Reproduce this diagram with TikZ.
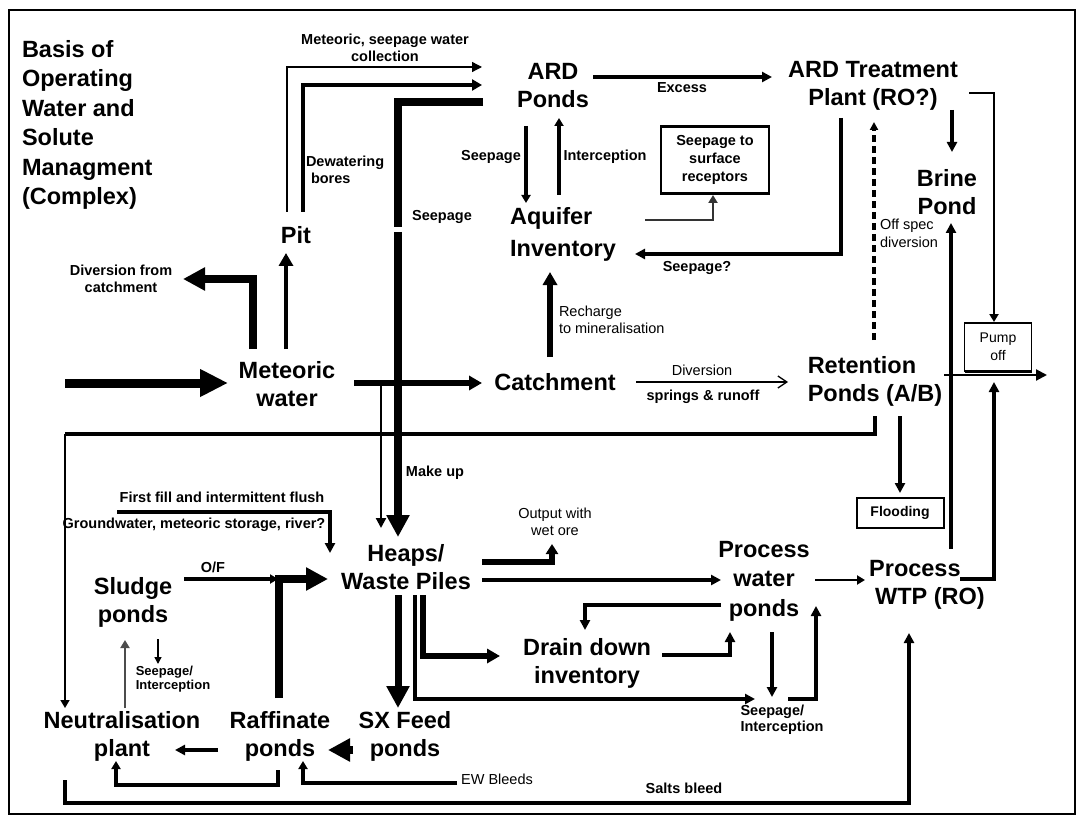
\documentclass[tikz,border=0pt]{standalone}
\usepackage{fontspec}
\setmainfont{Liberation Sans}
\usetikzlibrary{arrows.meta,calc}

\tikzset{
  every node/.style={inner sep=0pt, outer sep=0pt},
  stage/.style={font=\fontsize{23.5}{28}\selectfont\bfseries, align=center},
  tag/.style={font=\fontsize{14.5}{17.5}\selectfont\bfseries, align=center},
  note/.style={font=\fontsize{14.5}{17.5}\selectfont, align=center},
  framebox/.style={draw, line width=2pt, align=center},
  w1/.style={line width=1.3pt},
  w2/.style={line width=2.2pt},
  w3/.style={line width=3.3pt},
  w4/.style={line width=4.2pt},
  w5/.style={line width=5.5pt},
  w8/.style={line width=8pt},
  tipS/.style={-{Triangle[length=8pt,width=9pt]}},
  tipM/.style={-{Triangle[length=10pt,width=10pt]}},
  tipL/.style={-{Triangle[length=13pt,width=14pt]}},
  tipXL/.style={-{Triangle[length=22pt,width=22pt]}},
  tipOpen/.style={-{Straight Barb[length=9pt,width=12pt]}},
}

\begin{document}
\begin{tikzpicture}[x=1pt,y=-1pt]
\useasboundingbox (0,0) rectangle (1082,821);
\draw[line width=2pt] (9,10) rectangle (1075,814);

% heading
\node[anchor=north west, font=\fontsize{23.5}{29.5}\selectfont\bfseries, align=left]
  (title) at (22,40) {Basis of\\Operating\\Water and\\Solute\\Managment\\(Complex)};

% main inventories and plants
\node[stage] (met) at (287,384) {Meteoric\\water};
\node[stage] (pit) at (296,235) {Pit};
\node[stage] (ardp) at (553,86) {ARD\\Ponds};
\node[stage] (ardt) at (873,86) {ARD Treatment\\Plant (RO?)};
\node[stage, align=left, font=\fontsize{23.5}{32}\selectfont\bfseries] (aqu) at (563,234) {Aquifer\\Inventory};
\node[stage] (brine) at (947,192) {Brine\\Pond};
\node[stage] (catch) at (555,382) {Catchment};
\node[stage, align=left] (ret) at (875,381) {Retention\\Ponds (A/B)};
\node[stage] (heaps) at (406,567) {Heaps/\\Waste Piles};
\node[stage, font=\fontsize{23.5}{29.5}\selectfont\bfseries] (pwp) at (764,581) {Process\\water\\ponds};
\node[stage, align=left] (wtp) at (927,585) {Process\\\hspace*{6pt}WTP (RO)};
\node[stage] (ddi) at (587,663) {Drain down\\inventory};
\node[stage] (sludge) at (133,602) {Sludge\\ponds};
\node[stage] (neut) at (122,736) {Neutralisation\\plant};
\node[stage] (raff) at (280,736) {Raffinate\\ponds};
\node[stage] (sx) at (405,736) {SX Feed\\ponds};

% boxed receivers
\node[framebox, line width=2.4pt, minimum width=108pt, minimum height=67pt, tag,
  font=\fontsize{14.5}{18}\selectfont\bfseries] (recept) at (715,160) {Seepage to\\surface\\receptors};
\node[framebox, minimum width=87pt, minimum height=30pt, tag,
  font=\fontsize{14}{17}\selectfont\bfseries] (flood) at (900,513) {Flooding};
\node[framebox, line width=1.5pt, minimum width=67pt, minimum height=48pt, note,
  font=\fontsize{14}{18}\selectfont] (pump) at (998,347) {Pump\\off};
\draw[line width=3pt] (pump.south west) -- (pump.south east);

% flow labels
\node[tag] (collect) at (385,48) {Meteoric, seepage water\\collection};
\node[tag, align=left, anchor=west, font=\fontsize{14.5}{17}\selectfont\bfseries] (dewat) at (306,170) {Dewatering\\\hspace*{5pt}bores};
\node[tag] (divcatch) at (121,279) {Diversion from\\catchment};
\node[tag] (seepmain) at (442,217) {Seepage};
\node[tag] (excess) at (682,88) {Excess};
\node[tag] (seepdown) at (491,157) {Seepage};
\node[tag] (interc) at (605,157) {Interception};
\node[tag] (seepq) at (697,268) {Seepage?};
\node[note, align=left, anchor=west, font=\fontsize{14.5}{18}\selectfont] (offspec) at (880,233) {Off spec\\diversion};
\node[note, align=left, anchor=west, font=\fontsize{14.5}{17}\selectfont] (rech) at (559,320) {Recharge\\to mineralisation};
\node[note] (divlbl) at (702,370) {Diversion};
\node[tag] (springs) at (703,397) {springs \& runoff};
\node[tag] (makeup) at (435,473) {Make up};
\node[tag] (firstfill) at (222,497) {First fill and intermittent flush};
\node[tag] (gwater) at (194,525) {Groundwater, meteoric storage, river?};
\node[note, font=\fontsize{14.5}{17}\selectfont] (output) at (555,522) {Output with\\wet ore};
\node[tag] (of) at (213,567) {O/F};
\node[tag, align=left, font=\fontsize{13}{14}\selectfont\bfseries] (spi1) at (173,679) {Seepage/\\Interception};
\node[tag, align=left, font=\fontsize{14.5}{16}\selectfont\bfseries] (spi2) at (782,720) {Seepage/\\Interception};
\node[note] (ewb) at (497,779) {EW Bleeds};
\node[tag] (salts) at (684,788) {Salts bleed};

% free ends and bends
\coordinate (rain) at (65,383);
\coordinate (brkA) at (398,227);
\coordinate (brkB) at (398,232);
\coordinate (nbend) at (65,434);
\coordinate (ffstart) at (117,512);
\coordinate (outflow) at (1047,375);

% rainfall into the site
\draw[line width=9pt, -{Triangle[length=28pt,width=26pt]}] (rain) -- ($(met)+(-59,-1)$);
\draw[w8, tipXL] ($(met)+(-34,-35)$) |- ($(divcatch)+(62,0)$);
\draw[w4, tipL] ($(met)+(-1,-35)$) -- ($(pit)+(-10,18)$);
\draw[w5, tipL] ($(met)+(67,-1)$) -- ($(catch)+(-73,1)$);
\draw[w2, tipM] ($(met)+(94,-1)$) -- ($(heaps)+(-25,-39)$);

% pit to ARD ponds
\draw[w1, tipM] ($(pit)+(-9,-23)$) |- ($(ardp)+(-71,-19)$);
\draw[w4, {-Triangle[length=10pt,width=11pt]}] ($(pit)+(7,-23)$) |- ($(ardp)+(-71,-1)$);

% ARD ponds seepage / make up to the heaps
\draw[line width=7.5pt] ($(ardp)+(-70,16)$) -| (brkA);
\draw[line width=7.5pt, tipXL] (brkB) -- ($(heaps)+(-8,-30)$);

% ARD ponds, aquifer and treatment
\draw[w4, tipM] ($(ardp)+(40,-9)$) -- ($(ardt)+(-101,-9)$);
\draw[w3, tipS] ($(ardp)+(-27,40)$) -- ($(aqu)+(-37,-31)$);
\draw[w3, tipS] ($(aqu)+(-4,-39)$) -- ($(ardp)+(6,32)$);
\draw[w2, black!80, tipS] ($(aqu)+(82,-14)$) -| ($(recept)+(-2,35)$);
\draw[w3, tipM] ($(ardt)+(-32,32)$) |- ($(aqu)+(72,20)$);
\draw[w5, tipL] ($(catch)+(-5,-25)$) -- ($(aqu)+(-13,38)$);
\draw[w1, tipOpen] ($(catch)+(81,0)$) -- ($(ret)+(-87,1)$);

% treatment, brine and pump off
\draw[w3, dash pattern=on 7pt off 4pt, -{Triangle[length=8pt,width=8pt]}] ($(ret)+(-1,-41)$) -- ($(ardt)+(1,36)$);
\draw[w3, tipM] ($(ardt)+(79,24)$) -- ($(brine)+(5,-40)$);
\draw[line width=2.5pt, tipS] ($(ardt)+(96,7)$) -| ($(pump)+(-4,-25)$);
\draw[w3, tipM] ($(wtp)+(24,-36)$) -- ($(brine)+(4,31)$);
\draw[w3, tipM] ($(wtp)+(33,-6)$) -| ($(pump)+(-4,35)$);
\draw[w2, -{Triangle[length=11pt,width=11pt]}] ($(ret)+(69,-6)$) -- (outflow);
\draw[w3, tipM] ($(ret)+(25,35)$) -- ($(flood)+(0,-20)$);

% retention ponds to neutralisation
\draw[w3] ($(ret)+(0,35)$) |- (nbend);
\draw[line width=1.6pt, tipS] (nbend) -- ($(neut)+(-57,-28)$);

% first fill
\draw[w3, tipM] (ffstart) -| ($(heaps)+(-76,-14)$);

% sludge, raffinate and neutralisation circuit
\draw[w3, tipS] ($(sludge)+(51,-23)$) -- ($(heaps)+(-128,12)$);
\draw[w8, tipXL] ($(raff)+(-1,-38)$) |- ($(heaps)+(-78,12)$);
\draw[line width=1.5pt, -{Triangle[length=7pt,width=7pt]}] ($(sludge)+(25,37)$) -- ($(spi1)+(-15,-15)$);
\draw[w2, black!70, tipS] ($(neut)+(3,-28)$) -- ($(sludge)+(-8,38)$);
\draw[w3, tipM] ($(raff)+(-62,14)$) -- ($(neut)+(53,14)$);
\draw[w8, tipXL] ($(sx)+(-52,14)$) -- ($(raff)+(48,14)$);
\draw[w3, tipS] ($(raff)+(-2,34)$) -- ++(0,15) -| ($(neut)+(-6,25)$);
\draw[w3, tipS] ($(ewb)+(-40,4)$) -| ($(raff)+(23,25)$);
\draw[w4, tipM] ($(neut)+(-57,44)$) -- ++(0,23) -| ($(wtp)+(-18,48)$);

% heaps outflows
\draw[line width=7pt, tipXL] ($(heaps)+(-8,28)$) -- ($(sx)+(-7,-28)$);
\draw[w5, tipL] ($(heaps)+(17,28)$) |- ($(ddi)+(-87,-7)$);
\draw[w3, tipM] ($(heaps)+(9,28)$) |- ($(spi2)+(-27,-21)$);
\draw[w5, -{Triangle[length=10pt,width=12pt]}] ($(heaps)+(76,-5)$) -| ($(output)+(-3,22)$);
\draw[w4, tipM] ($(heaps)+(76,13)$) -- ($(pwp)+(-43,-1)$);

% process water circuit
\draw[w4, tipM] ($(pwp)+(-43,24)$) -| ($(ddi)+(-2,-33)$);
\draw[w4, tipM] ($(ddi)+(75,-8)$) -| ($(pwp)+(-34,51)$);
\draw[w3, tipM] ($(pwp)+(8,51)$) -- ($(spi2)+(-10,-23)$);
\draw[w3, tipM] ($(spi2)+(6,-21)$) -| ($(pwp)+(52,25)$);
\draw[w2, tipS] ($(pwp)+(51,-1)$) -- ($(wtp)+(-62,-5)$);
\end{tikzpicture}
\end{document}
